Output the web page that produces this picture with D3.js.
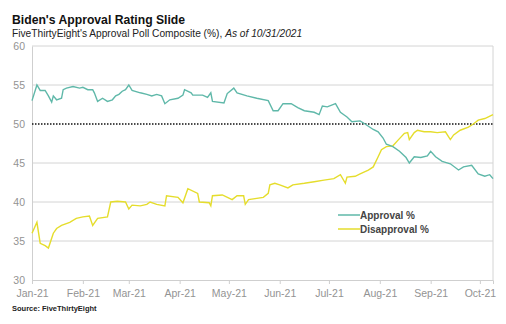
<!DOCTYPE html>
<html>
<head>
<meta charset="utf-8">
<script src="https://cdn.jsdelivr.net/npm/d3@7"></script>
<style>
  body { margin: 0; background: #fff; }
  svg { font-family: "Liberation Sans", Arial, sans-serif; }
</style>
</head>
<body>
<div id="chart"></div>
<script>
// approval composite, [date, value]
var approval = [
    ["2021-01-23", 53.0], ["2021-01-26", 55.0], ["2021-01-28", 54.3], ["2021-01-31", 54.3],
    ["2021-02-02", 53.6], ["2021-02-04", 52.8], ["2021-02-05", 53.6], ["2021-02-07", 53.1],
    ["2021-02-10", 53.3], ["2021-02-11", 54.4], ["2021-02-13", 54.6], ["2021-02-17", 54.8],
    ["2021-02-21", 54.6], ["2021-02-23", 54.7], ["2021-02-26", 54.4], ["2021-03-01", 54.4],
    ["2021-03-02", 54.0], ["2021-03-04", 52.9], ["2021-03-07", 53.3], ["2021-03-10", 52.9],
    ["2021-03-13", 53.1], ["2021-03-15", 53.6], ["2021-03-17", 53.8], ["2021-03-19", 54.2],
    ["2021-03-21", 54.4], ["2021-03-23", 55.0], ["2021-03-25", 54.3], ["2021-03-30", 54.0],
    ["2021-04-03", 53.8], ["2021-04-06", 53.6], ["2021-04-09", 53.8], ["2021-04-12", 53.6],
    ["2021-04-14", 52.6], ["2021-04-17", 53.1], ["2021-04-22", 53.3], ["2021-04-25", 53.7],
    ["2021-04-26", 54.4], ["2021-04-30", 54.0], ["2021-05-01", 53.7], ["2021-05-07", 53.7],
    ["2021-05-10", 53.4], ["2021-05-12", 54.0], ["2021-05-13", 52.9], ["2021-05-20", 52.7],
    ["2021-05-22", 53.9], ["2021-05-26", 54.6], ["2021-05-28", 54.0], ["2021-06-03", 53.6],
    ["2021-06-09", 53.3], ["2021-06-16", 53.0], ["2021-06-19", 51.7], ["2021-06-22", 51.7],
    ["2021-06-25", 52.6], ["2021-06-30", 52.6], ["2021-07-04", 52.1], ["2021-07-08", 51.7],
    ["2021-07-14", 51.5], ["2021-07-17", 51.2], ["2021-07-19", 52.3], ["2021-07-22", 52.2],
    ["2021-07-27", 52.6], ["2021-07-30", 51.5], ["2021-08-03", 50.9], ["2021-08-06", 50.3],
    ["2021-08-11", 50.4], ["2021-08-14", 50.0], ["2021-08-19", 49.3], ["2021-08-22", 49.0],
    ["2021-08-25", 48.2], ["2021-08-27", 47.4], ["2021-08-31", 47.1], ["2021-09-04", 46.5],
    ["2021-09-08", 45.7], ["2021-09-10", 45.0], ["2021-09-13", 45.8], ["2021-09-17", 45.7],
    ["2021-09-21", 45.9], ["2021-09-23", 46.5], ["2021-09-26", 45.8], ["2021-09-30", 45.2],
    ["2021-10-05", 44.9], ["2021-10-10", 44.1], ["2021-10-13", 44.5], ["2021-10-18", 44.7],
    ["2021-10-22", 43.6], ["2021-10-26", 43.3], ["2021-10-29", 43.5], ["2021-10-31", 43.0]
]

// disapproval composite
var disapproval = [
    ["2021-01-23", 36.0], ["2021-01-26", 37.4], ["2021-01-28", 34.7], ["2021-01-31", 34.4],
    ["2021-02-02", 34.1], ["2021-02-05", 36.0], ["2021-02-07", 36.6], ["2021-02-10", 37.0],
    ["2021-02-15", 37.4], ["2021-02-19", 37.9], ["2021-02-23", 38.1], ["2021-02-27", 38.2],
    ["2021-03-01", 37.0], ["2021-03-04", 37.9], ["2021-03-10", 38.1], ["2021-03-12", 40.0],
    ["2021-03-16", 40.1], ["2021-03-21", 40.0], ["2021-03-23", 39.1], ["2021-03-25", 39.6],
    ["2021-03-30", 39.5], ["2021-04-03", 39.7], ["2021-04-05", 40.0], ["2021-04-09", 39.7],
    ["2021-04-14", 39.5], ["2021-04-15", 40.8], ["2021-04-22", 40.6], ["2021-04-25", 39.9],
    ["2021-04-28", 41.7], ["2021-05-04", 41.1], ["2021-05-05", 40.0], ["2021-05-11", 39.9],
    ["2021-05-12", 39.5], ["2021-05-13", 40.8], ["2021-05-19", 40.9], ["2021-05-25", 40.3],
    ["2021-05-28", 40.8], ["2021-06-01", 40.8], ["2021-06-02", 39.7], ["2021-06-04", 40.3],
    ["2021-06-13", 40.6], ["2021-06-16", 41.1], ["2021-06-17", 42.2], ["2021-06-20", 42.4],
    ["2021-06-23", 42.2], ["2021-06-28", 41.8], ["2021-07-01", 42.2], ["2021-07-08", 42.4],
    ["2021-07-14", 42.6], ["2021-07-20", 42.8], ["2021-07-26", 43.0], ["2021-07-30", 43.5],
    ["2021-08-02", 42.4], ["2021-08-03", 43.2], ["2021-08-08", 43.3], ["2021-08-11", 43.6],
    ["2021-08-16", 44.1], ["2021-08-19", 44.5], ["2021-08-22", 45.8], ["2021-08-24", 46.7],
    ["2021-08-27", 47.1], ["2021-08-31", 47.2], ["2021-09-03", 47.9], ["2021-09-07", 48.8],
    ["2021-09-09", 48.9], ["2021-09-10", 48.0], ["2021-09-13", 48.9], ["2021-09-15", 49.2],
    ["2021-09-19", 49.0], ["2021-09-23", 49.0], ["2021-09-27", 48.9], ["2021-10-02", 49.0],
    ["2021-10-05", 48.0], ["2021-10-07", 48.6], ["2021-10-11", 49.2], ["2021-10-16", 49.6],
    ["2021-10-19", 50.0], ["2021-10-22", 50.5], ["2021-10-26", 50.7], ["2021-10-31", 51.2]
]

// x ticks fall on the 23rd of each month
var xTicks = ["2021-01-23", "2021-02-23", "2021-03-23", "2021-04-23", "2021-05-23",
              "2021-06-23", "2021-07-23", "2021-08-23", "2021-09-23", "2021-10-23"]
var yTicks = [30, 35, 40, 45, 50, 55, 60]
var seriesNames = ["Approval %", "Disapproval %"]
var seriesColors = ["#5fb8a9", "#e5dd2c"]

var parse = d3.timeParse("%Y-%m-%d")

var width = 506, height = 324
var margin = { top: 46, right: 13, bottom: 44, left: 32 }

var svg = d3.select('#chart').append('svg')
    .attr('width', width)
    .attr('height', height)

var x = d3.scaleTime()
    .domain([parse("2021-01-23"), parse("2021-10-31")])
    .range([margin.left, width - margin.right])

var y = d3.scaleLinear()
    .domain([30, 60])
    .range([height - margin.bottom, margin.top])

// title + subtitle
svg.append('text')
    .attr('x', 12).attr('y', 24)
    .attr('font-size', 12.2).attr('font-weight', 'bold').attr('fill', '#111')
    .text("Biden's Approval Rating Slide")

var sub = svg.append('text')
    .attr('x', 12).attr('y', 37)
    .attr('font-size', 10.2).attr('fill', '#222')
sub.append('tspan').text("FiveThirtyEight's Approval Poll Composite (%), ")
sub.append('tspan').attr('font-style', 'italic').text("As of 10/31/2021")

// gridlines
svg.append('g')
    .selectAll('line')
    .data(yTicks.filter(d => d != 50 && d != 30))
    .join('line')
        .attr('x1', margin.left).attr('x2', width - margin.right)
        .attr('y1', d => y(d)).attr('y2', d => y(d))
        .attr('stroke', '#d4d4d4').attr('stroke-width', 1)

// right border
svg.append('line')
    .attr('x1', width - margin.right).attr('x2', width - margin.right)
    .attr('y1', y(60)).attr('y2', y(30))
    .attr('stroke', '#d4d4d4')

// y axis
var yAxis = svg.append('g')
    .attr('transform', 'translate(' + margin.left + ',0)')
    .call(d3.axisLeft(y).tickValues(yTicks).tickSize(0).tickPadding(7))
yAxis.select('.domain').attr('stroke', '#cfcfcf')
yAxis.selectAll('text').attr('font-size', 10.5).attr('fill', '#939393')
    .attr('font-family', '"Liberation Sans", Arial, sans-serif')

// x axis
var xAxis = svg.append('g')
    .attr('transform', 'translate(0,' + y(30) + ')')
    .call(d3.axisBottom(x)
        .tickValues(xTicks.map(parse))
        .tickFormat(d3.timeFormat("%b-%y"))
        .tickSizeOuter(0).tickSize(4).tickPadding(6))
xAxis.select('.domain').attr('stroke', '#cfcfcf')
xAxis.selectAll('line').attr('stroke', '#cfcfcf')
xAxis.selectAll('text').attr('font-size', 10.5).attr('fill', '#939393')
    .attr('font-family', '"Liberation Sans", Arial, sans-serif')

// 50% reference line
svg.append('line')
    .attr('x1', margin.left).attr('x2', width - margin.right)
    .attr('y1', y(50)).attr('y2', y(50))
    .attr('stroke', '#111').attr('stroke-width', 1.3)
    .attr('stroke-dasharray', '1.5,1.5')

// series lines
var line = d3.line()
    .x(d => x(parse(d[0])))
    .y(d => y(d[1]))

svg.append('path')
    .datum(disapproval)
    .attr('d', line)
    .attr('fill', 'none')
    .attr('stroke', seriesColors[1])
    .attr('stroke-width', 1.4)

svg.append('path')
    .datum(approval)
    .attr('d', line)
    .attr('fill', 'none')
    .attr('stroke', seriesColors[0])
    .attr('stroke-width', 1.4)

// legend
var legend = svg.append('g')
    .selectAll('g')
    .data(seriesNames)
    .join('g')
        .attr('transform', (d, i) => 'translate(338,' + (215 + i * 14) + ')')
legend.append('line')
    .attr('x1', 0).attr('x2', 22)
    .attr('stroke', (d, i) => seriesColors[i])
    .attr('stroke-width', 1.5)
legend.append('text')
    .attr('x', 22).attr('y', 3.5)
    .attr('font-size', 10).attr('font-weight', 'bold').attr('fill', '#444')
    .attr('font-family', '"Liberation Sans Narrow", "Liberation Sans", sans-serif')
    .text(d => d)

// source note
svg.append('text')
    .attr('x', 12).attr('y', 311)
    .attr('font-size', 7.5).attr('font-weight', 'bold').attr('fill', '#222')
    .text("Source: FiveThirtyEight")
</script>
</body>
</html>
